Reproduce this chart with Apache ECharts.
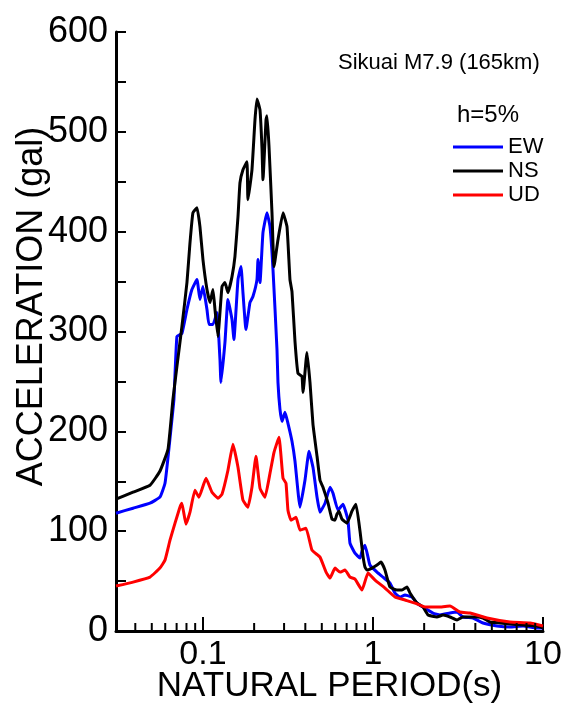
<!DOCTYPE html>
<html>
<head>
<meta charset="utf-8">
<script src="https://cdn.jsdelivr.net/npm/echarts@6/dist/echarts.min.js"></script>
<style>html,body{margin:0;padding:0;background:#fff}#c{width:568px;height:708px}</style>
</head>
<body>
<div id="c"></div>
<script>
// ---- data (period in s, acceleration in gal) ----
const seriesNames = ['EW', 'NS', 'UD'];
const seriesColors = ['#0000ff', '#000000', '#ff0000'];

const periodEW = [0.0308,0.0388,0.0488,0.0558,0.0598,0.0623,0.0657,0.0675,0.0703,0.0752,0.0805,0.0861,0.0922,0.0960,0.100,0.1056,0.1085,0.1145,0.1209,0.1259,0.1276,0.1347,0.1403,0.1482,0.1521,0.1607,0.1674,0.1719,0.1790,0.1890,0.1968,0.2078,0.2107,0.2165,0.2254,0.2380,0.2479,0.2582,0.2725,0.2762,0.2838,0.2917,0.3038,0.3162,0.3339,0.3478,0.3722,0.3981,0.4204,0.4437,0.4688,0.4880,0.5224,0.5589,0.5820,0.6223,0.6662,0.7128,0.7322,0.7834,0.8390,0.8620,0.8976,0.9348,0.9602,1.056,1.145,1.259,1.347,1.442,1.542,1.695,1.814,1.968,2.254,2.478,2.838,3.119,3.383,3.874,4.436,5.360,6.394,7.629,9.221,10.0];
const accEW = [118,123,128,134,148,174,212,232,295,298,322,342,352,332,345,322,307,307,319,272,249,289,332,312,292,352,365,339,302,329,335,352,372,349,399,419,405,362,282,249,222,210,219,208,190,170,124,151,180,164,134,119,128,144,138,121,127,111,88,78,73,80,86,74,66,59,54,48,38,34,36,34,28,24,18,16,18,19,14,13,8,5,4,5,3,3];

const periodNS = [0.0308,0.0388,0.0488,0.0558,0.0623,0.0666,0.0703,0.0752,0.0805,0.0839,0.0873,0.0922,0.0960,0.100,0.1056,0.1100,0.1145,0.1177,0.1225,0.1294,0.1347,0.1403,0.1482,0.1542,0.1607,0.1651,0.1719,0.1815,0.1839,0.1942,0.2023,0.2078,0.2165,0.2225,0.2254,0.2349,0.2380,0.2445,0.2547,0.2618,0.2762,0.2957,0.3121,0.3249,0.3339,0.3478,0.3622,0.3823,0.3876,0.4091,0.4261,0.4437,0.4688,0.4880,0.5081,0.5441,0.5741,0.5979,0.6138,0.6310,0.6571,0.7031,0.7522,0.7943,0.8390,0.8738,0.8976,0.9221,0.9865,1.056,1.115,1.176,1.259,1.384,1.481,1.585,1.651,1.814,1.968,2.108,2.378,2.582,2.838,3.119,3.383,4.091,4.436,4.876,5.586,6.394,7.629,9.221,10.0];
const accNS = [132,139,146,160,182,232,265,305,349,389,419,424,405,372,342,329,342,322,295,345,349,339,355,375,415,449,462,470,432,462,512,533,522,483,452,512,516,486,419,365,392,419,405,352,340,290,258,255,239,279,249,207,175,151,144,128,112,111,117,120,112,108,120,127,100,75,64,61,63,66,69,61,44,41,41,44,38,28,24,16,14,16,14,11,14,14,13,9,8,7,6,5,3];

const periodUD = [0.0308,0.0388,0.0488,0.0558,0.0598,0.0640,0.0685,0.0732,0.0752,0.0794,0.0839,0.0897,0.0947,0.1042,0.1130,0.1225,0.1294,0.1403,0.1501,0.1607,0.1719,0.1839,0.1942,0.2050,0.2165,0.2317,0.2479,0.2618,0.2800,0.2957,0.3079,0.3162,0.3294,0.3525,0.3722,0.4036,0.4378,0.4880,0.5296,0.5589,0.5979,0.6397,0.6844,0.7322,0.7834,0.8620,0.9348,1.028,1.176,1.347,1.542,1.766,2.023,2.478,2.838,3.251,3.721,4.686,6.394,8.387,10.0];
const accUD = [45,49,54,63,71,91,108,124,128,107,119,141,134,153,139,133,137,161,187,164,131,124,144,175,143,134,158,179,194,153,148,121,111,114,101,103,81,74,59,53,63,59,61,54,52,41,58,51,43,34,31,28,24,24,25,19,18,13,9,8,5];

const xMin = 0.0308, xMax = 10;
const yMin = 0, yMax = 600, yStep = 100;
const xTickLabels = ['0.1', '1', '10'];
const xMinorTicks = [0.04,0.05,0.06,0.07,0.08,0.09,0.2,0.3,0.4,0.5,0.6,0.7,0.8,0.9,2,3,4,5,6,7,8,9];

const titleText = 'Sikuai M7.9 (165km)';
const dampText = 'h=5%';
const xName = 'NATURAL PERIOD(s)';
const yName = 'ACCELERATION (gal)';

// ---- chart ----
const FONT = 'Arial, "Liberation Sans", sans-serif';
const zip = (a, b) => a.map((v, i) => [v, b[i]]);
const allPeriods = [periodEW, periodNS, periodUD];
const allAcc = [accEW, accNS, accUD];

const chart = echarts.init(document.getElementById('c'), null, {renderer: 'canvas'});

const lineSeries = seriesNames.map((name, i) => ({
  name: name,
  type: 'line',
  data: zip(allPeriods[i], allAcc[i]),
  showSymbol: false,
  symbol: 'none',
  smooth: 0.12,
  lineStyle: {color: seriesColors[i], width: 3, join: 'round'},
  itemStyle: {color: seriesColors[i]},
  z: 2 + i,
  animation: false
}));

const minorTickSeries = {
  name: 'minorTicks',
  type: 'custom',
  silent: true,
  animation: false,
  z: 10,
  clip: false,
  data: xMinorTicks.map(v => [v, 0]),
  renderItem: function (params, api) {
    const p = api.coord([api.value(0), 0]);
    return {
      type: 'line',
      shape: {x1: p[0], y1: p[1], x2: p[0], y2: p[1] - 8},
      style: {stroke: '#000', lineWidth: 2}
    };
  }
};

chart.setOption({
  backgroundColor: '#ffffff',
  animation: false,
  textStyle: {fontFamily: FONT},
  title: [
    {text: titleText, left: 338, top: 52, padding: 0,
     textStyle: {fontFamily: FONT, fontSize: 22, fontWeight: 'normal', color: '#000'}},
    {text: dampText, left: 457, top: 103, padding: 0,
     textStyle: {fontFamily: FONT, fontSize: 24, fontWeight: 'normal', color: '#000'}}
  ],
  legend: {
    data: seriesNames,
    orient: 'vertical',
    left: 453,
    top: 136,
    padding: 0,
    icon: 'rect',
    itemWidth: 50,
    itemHeight: 3,
    itemGap: 2,
    textStyle: {fontFamily: FONT, fontSize: 22, color: '#000', lineHeight: 22}
  },
  grid: {left: 116, right: 25, top: 32, bottom: 77, containLabel: false, outerBoundsMode: 'none'},
  xAxis: {
    type: 'log',
    logBase: 10,
    min: xMin,
    max: xMax,
    name: xName,
    nameLocation: 'middle',
    nameGap: 38,
    nameMoveOverlap: false,
    nameTextStyle: {fontFamily: FONT, fontSize: 35, color: '#000'},
    axisLine: {show: true, onZero: false, lineStyle: {color: '#000', width: 3}},
    axisTick: {show: true, inside: true, length: 14, lineStyle: {color: '#000', width: 2}},
    axisLabel: {
      show: true, margin: 7, fontFamily: FONT, fontSize: 34, color: '#000',
      showMinLabel: false,
      formatter: function (v) {
        const l = Math.log10(v);
        if (Math.abs(l - Math.round(l)) > 1e-6) return '';
        const idx = Math.round(l) + 1;
        return xTickLabels[idx] !== undefined ? xTickLabels[idx] : '';
      }
    },
    splitLine: {show: false},
    minorTick: {show: false}
  },
  yAxis: {
    type: 'value',
    min: yMin,
    max: yMax,
    interval: yStep,
    name: yName,
    nameLocation: 'middle',
    nameGap: 66,
    nameMoveOverlap: false,
    nameRotate: 90,
    nameTextStyle: {fontFamily: FONT, fontSize: 36, color: '#000', padding: [0, 0, 0, 50]},
    axisLine: {show: true, onZero: false, lineStyle: {color: '#000', width: 3}},
    axisTick: {show: true, inside: true, length: 10, lineStyle: {color: '#000', width: 2}},
    minorTick: {show: true, splitNumber: 2, length: 10, lineStyle: {color: '#000', width: 2}},
    axisLabel: {show: true, margin: 8, fontFamily: FONT, fontSize: 36, color: '#000'},
    splitLine: {show: false},
    minorSplitLine: {show: false}
  },
  series: lineSeries.concat([minorTickSeries])
});
</script>
</body>
</html>
